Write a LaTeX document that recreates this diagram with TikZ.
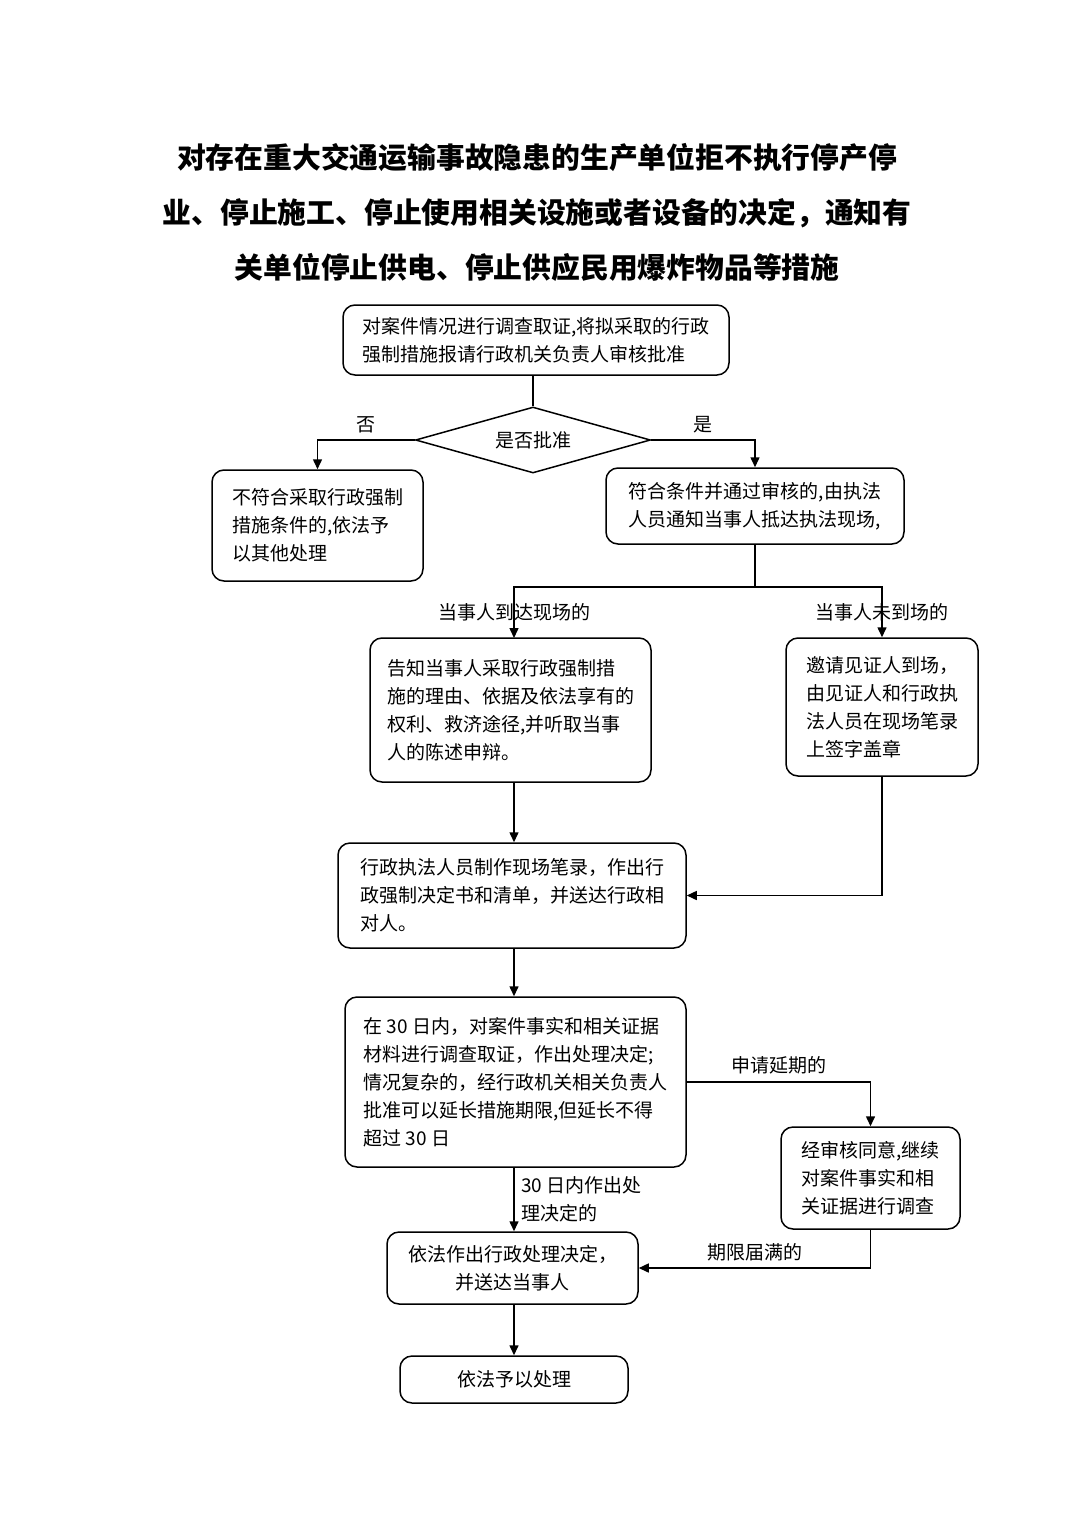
\documentclass[tikz,border=0pt]{standalone}
\usepackage{fontspec}
\setmainfont{Noto Sans CJK SC}
\usetikzlibrary{shapes.geometric,arrows.meta}

\begin{document}
\begin{tikzpicture}[x=0.5pt, y=-0.5pt, line width=0.75pt,
    >={Triangle[length=5pt,width=4.5pt]},
    box/.style={draw, rounded corners=6pt, align=left, inner sep=0pt,
        font=\fontsize{9.5}{14}\selectfont},
    lbl/.style={font=\fontsize{9.5}{14}\selectfont}]
\useasboundingbox (0,0) rectangle (1075,1520);

\node[align=center, font=\fontsize{14.4}{27.5}\selectfont\bfseries] (T) at (537,212)
    {对存在重大交通运输事故隐患的生产单位拒不执行停产停\\业、停止施工、停止使用相关设施或者设备的决定，通知有\\关单位停止供电、停止供应民用爆炸物品等措施};

\node[box, minimum width=193pt, minimum height=35pt] (A) at (536,340)
    {对案件情况进行调查取证,将拟采取的行政\\强制措施报请行政机关负责人审核批准};
\node[draw, diamond, shape aspect=3.56, minimum width=117.5pt, minimum height=33pt,
    inner sep=0pt, lbl] (Q) at (533,440) {是否批准};
\node[box, minimum width=105.5pt, minimum height=55.5pt] (B) at (317.5,525.5)
    {不符合采取行政强制\\措施条件的,依法予\\以其他处理};
\node[box, minimum width=149pt, minimum height=38pt] (C) at (755,506)
    {符合条件并通过审核的,由执法\\人员通知当事人抵达执法现场,};
\coordinate (J) at (755,587);
\node[box, minimum width=140.5pt, minimum height=72pt] (D) at (510.5,710)
    {告知当事人采取行政强制措\\施的理由、依据及依法享有的\\权利、救济途径,并听取当事\\人的陈述申辩。};
\node[box, minimum width=96pt, minimum height=69pt] (E) at (882,707)
    {邀请见证人到场，\\由见证人和行政执\\法人员在现场笔录\\上签字盖章};
\node[box, minimum width=174pt, minimum height=52.5pt] (F) at (512,895.5)
    {行政执法人员制作现场笔录，作出行\\政强制决定书和清单，并送达行政相\\对人。};
\node[box, minimum width=170.5pt, minimum height=85pt] (G) at (515.5,1082)
    {在 30 日内，对案件事实和相关证据\\材料进行调查取证，作出处理决定;\\情况复杂的，经行政机关相关负责人\\批准可以延长措施期限,但延长不得\\超过 30 日};
\node[box, minimum width=89.5pt, minimum height=51pt] (H) at (870.5,1178)
    {经审核同意,继续\\对案件事实和相\\关证据进行调查};
\node[box, align=center, minimum width=125.5pt, minimum height=36pt] (I) at (512.5,1268)
    {依法作出行政处理决定，\\并送达当事人};
\node[box, minimum width=114pt, minimum height=23.5pt] (K) at (514,1379.5) {依法予以处理};

\draw (Q.north |- A.south) -- (Q.north);
\draw[->] (Q.west) -| (B.north) node[lbl, above, pos=0.25] {否};
\draw[->] (Q.east) -| (C.north) node[lbl, above, pos=0.25] {是};
\draw (C) -- (J);
\draw[->] (J) -| (514,638) node[lbl, pos=0.75] {当事人到达现场的};
\draw[->] (J) -| (E.north) node[lbl, pos=0.75] {当事人未到场的};
\draw[->] (514,782) -- (F.north -| 514,0);
\draw[->] (E) |- (F);
\draw[->] (F.south -| 514,0) -- (G.north -| 514,0);
\draw[->] (G) -| (H) node[lbl, above, pos=0.25] {申请延期的};
\draw[->] (G.south -| 514,0) -- (I.north -| 514,0)
    node[lbl, right, align=left, midway] {30 日内作出处\\理决定的};
\draw[->] (H) |- (I) node[lbl, above, pos=0.75] {期限届满的};
\draw[->] (I.south -| 514,0) -- (K);
\end{tikzpicture}
\end{document}
